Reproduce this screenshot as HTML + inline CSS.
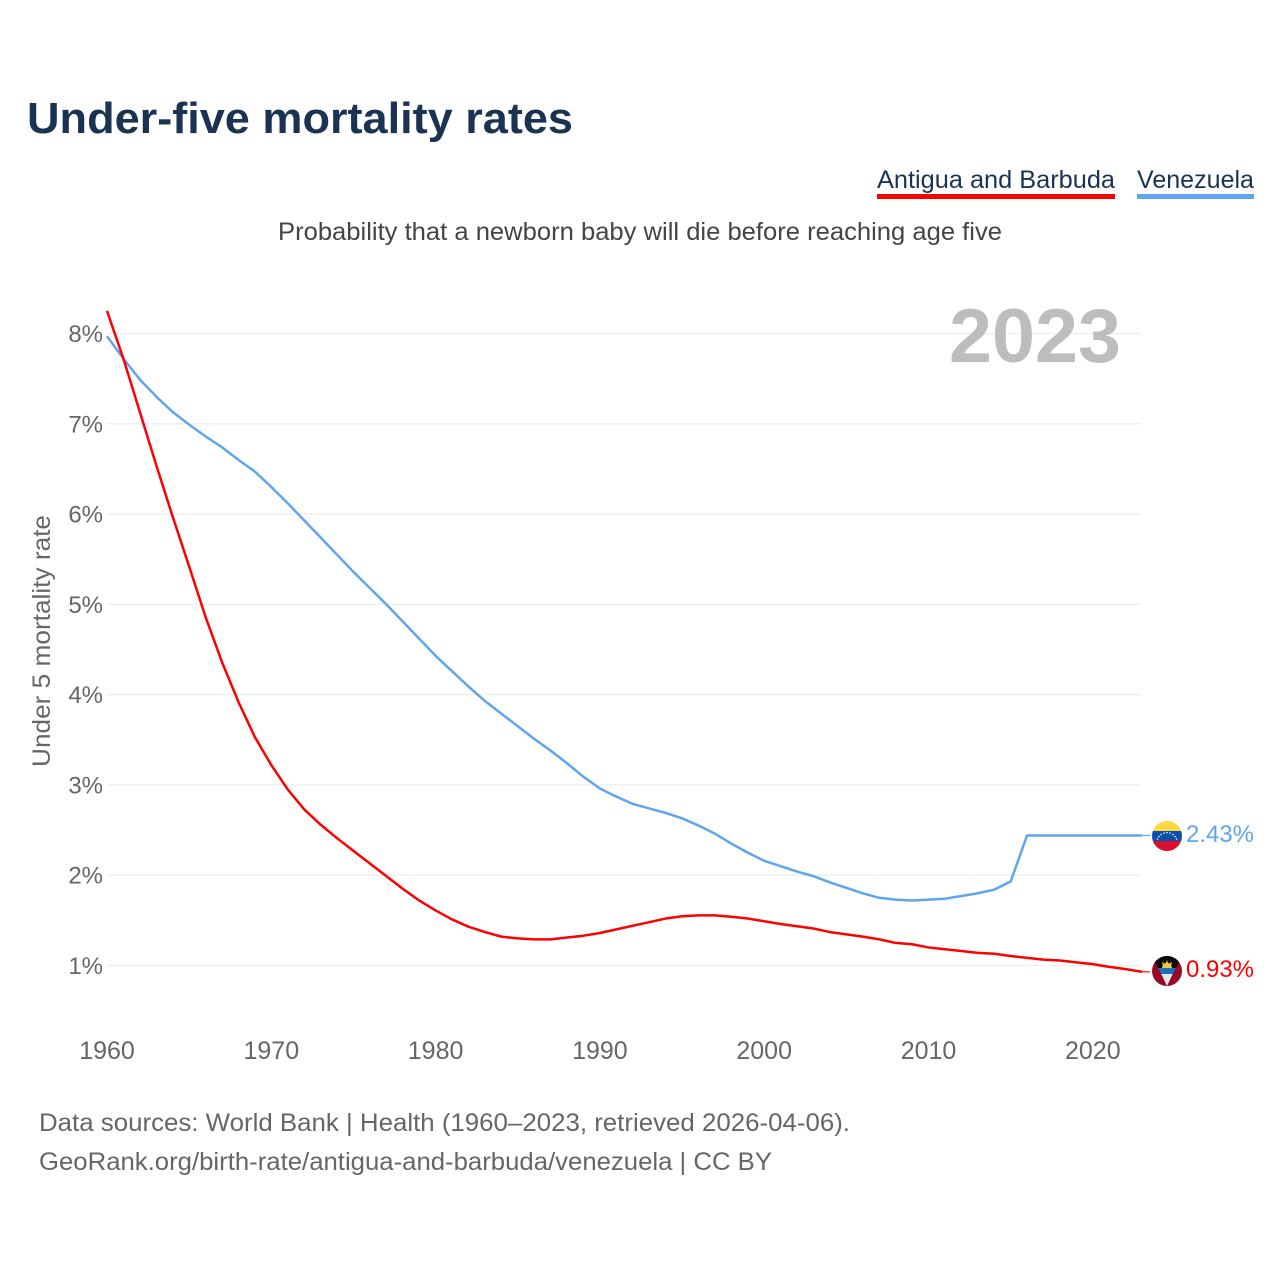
<!DOCTYPE html>
<html lang="en">
<head>
<meta charset="utf-8">
<title>Under-five mortality rates</title>
<style>
html,body{margin:0;padding:0;background:#fff;}
svg{display:block;font-family:"Liberation Sans",sans-serif;}
</style>
</head>
<body>
<svg id="chart" width="1280" height="1280" viewBox="0 0 1280 1280" xmlns="http://www.w3.org/2000/svg">
  <defs>
    <clipPath id="clip-ve"><circle cx="1167" cy="836" r="15"/></clipPath>
    <clipPath id="clip-ag"><circle cx="1167" cy="971" r="15"/></clipPath>
  </defs>
  <rect width="1280" height="1280" fill="#fff"/>
  <text x="27" y="133" font-size="44" font-weight="700" fill="#1a3353" textLength="546" lengthAdjust="spacingAndGlyphs">Under-five mortality rates</text>
  <text x="877" y="188" font-size="25" fill="#1a3353" textLength="238" lengthAdjust="spacingAndGlyphs">Antigua and Barbuda</text>
  <rect x="877" y="194" width="238" height="5" fill="#ff0000"/>
  <text x="1137" y="188" font-size="25" fill="#1a3353" textLength="117" lengthAdjust="spacingAndGlyphs">Venezuela</text>
  <rect x="1137" y="194" width="117" height="5" fill="#5fa5ee"/>
  <text x="278" y="240" font-size="25" fill="#444" textLength="724" lengthAdjust="spacingAndGlyphs">Probability that a newborn baby will die before reaching age five</text>
  <g id="grid"></g>
  <g id="y-ticks"></g>
  <g id="x-ticks"></g>
  <text x="949" y="362" font-size="76" font-weight="700" fill="#bdbdbd" textLength="172" lengthAdjust="spacingAndGlyphs">2023</text>
  <text transform="translate(50 641) rotate(-90)" text-anchor="middle" font-size="25" fill="#666" textLength="252" lengthAdjust="spacingAndGlyphs">Under 5 mortality rate</text>
  <g id="series"></g>

  <g clip-path="url(#clip-ve)">
    <rect x="1152" y="821" width="30" height="10" fill="#ffd83d"/>
    <rect x="1152" y="831" width="30" height="10" fill="#0a4fb0"/>
    <rect x="1152" y="841" width="30" height="10" fill="#d8102c"/>
    <g fill="#fff">
      <circle cx="1157.5" cy="839" r="0.8"/><circle cx="1159" cy="836.5" r="0.8"/><circle cx="1161" cy="834.5" r="0.8"/><circle cx="1164" cy="833" r="0.8"/><circle cx="1167" cy="832.5" r="0.8"/><circle cx="1170" cy="833" r="0.8"/><circle cx="1173" cy="834.5" r="0.8"/><circle cx="1175" cy="836.5" r="0.8"/><circle cx="1176.5" cy="839" r="0.8"/>
    </g>
  </g>
  <g clip-path="url(#clip-ag)">
    <rect x="1152" y="956" width="30" height="30" fill="#9a0a22"/>
    <polygon points="1152,956 1182,956 1167,986" fill="#0a0a0a"/>
    <circle cx="1167" cy="968" r="5" fill="#f6c93a"/>
    <polygon points="1167,960 1168.5,964 1172,962 1171,966 1163,966 1162,962 1165.5,964" fill="#f6c93a"/>
    <polygon points="1158,968 1176,968 1172.8,974 1161.2,974" fill="#1f6fc0"/>
    <polygon points="1161.2,974 1172.8,974 1167,986" fill="#e8e8e8"/>
  </g>
  <text x="1186" y="842" font-size="24" fill="#5fa5ee" textLength="68" lengthAdjust="spacingAndGlyphs">2.43%</text>
  <text x="1186" y="977" font-size="24" fill="#ff0000" textLength="68" lengthAdjust="spacingAndGlyphs">0.93%</text>

  <text x="39" y="1131" font-size="25" fill="#666" textLength="811" lengthAdjust="spacingAndGlyphs">Data sources: World Bank | Health (1960–2023, retrieved 2026-04-06).</text>
  <text x="39" y="1170" font-size="25" fill="#666" textLength="733" lengthAdjust="spacingAndGlyphs">GeoRank.org/birth-rate/antigua-and-barbuda/venezuela | CC BY</text>
</svg>
<script>
const startYear = 1960;
const yTickValues = [1, 2, 3, 4, 5, 6, 7, 8];
const xTickYears = [1960, 1970, 1980, 1990, 2000, 2010, 2020];
const antiguaValues = [8.25, 7.72, 7.13, 6.54, 5.97, 5.42, 4.86, 4.36, 3.92, 3.53, 3.22, 2.95, 2.73, 2.56, 2.41, 2.27, 2.13, 1.99, 1.85, 1.72, 1.61, 1.51, 1.43, 1.37, 1.32, 1.30, 1.29, 1.29, 1.31, 1.33, 1.36, 1.40, 1.44, 1.48, 1.52, 1.545, 1.555, 1.555, 1.54, 1.52, 1.49, 1.46, 1.435, 1.41, 1.37, 1.345, 1.32, 1.29, 1.25, 1.235, 1.20, 1.18, 1.16, 1.14, 1.13, 1.105, 1.085, 1.065, 1.055, 1.035, 1.015, 0.985, 0.96, 0.93];
const venezuelaValues = [7.97, 7.72, 7.49, 7.30, 7.13, 6.99, 6.86, 6.74, 6.60, 6.47, 6.30, 6.12, 5.93, 5.74, 5.55, 5.36, 5.18, 5.00, 4.81, 4.62, 4.43, 4.26, 4.09, 3.93, 3.79, 3.65, 3.51, 3.38, 3.24, 3.09, 2.96, 2.87, 2.79, 2.74, 2.69, 2.63, 2.55, 2.46, 2.35, 2.25, 2.16, 2.10, 2.04, 1.99, 1.92, 1.86, 1.80, 1.75, 1.73, 1.72, 1.73, 1.74, 1.77, 1.80, 1.84, 1.93, 2.44, 2.44, 2.44, 2.44, 2.44, 2.44, 2.44, 2.44];

const NS = 'http://www.w3.org/2000/svg';
function xScale(year) { return 107 + (year - 1960) * 16.43; }
function yScale(v) { return 965.5 - (v - 1) * 90.29; }

const grid = document.getElementById('grid');
const yTicks = document.getElementById('y-ticks');
yTickValues.forEach(function (v) {
  const line = document.createElementNS(NS, 'line');
  
  
  line.setAttribute('x1', 107);
  line.setAttribute('x2', 1141);
  line.setAttribute('y1', yScale(v));
  line.setAttribute('y2', yScale(v));
  line.setAttribute('stroke', '#eeeeee');
  line.setAttribute('stroke-width', 1.3);
  grid.appendChild(line);
  const label = document.createElementNS(NS, 'text');
  
  
  label.setAttribute('x', 103);
  label.setAttribute('y', yScale(v) + 8.5);
  label.setAttribute('text-anchor', 'end');
  label.setAttribute('font-size', 24);
  label.setAttribute('fill', '#666');
  label.textContent = v + '%';
  yTicks.appendChild(label);
});

const xTicks = document.getElementById('x-ticks');
xTickYears.forEach(function (year) {
  const label = document.createElementNS(NS, 'text');
  
  
  label.setAttribute('x', xScale(year));
  label.setAttribute('y', 1059);
  label.setAttribute('text-anchor', 'middle');
  label.setAttribute('font-size', 25);
  label.setAttribute('fill', '#666');
  label.textContent = String(year);
  xTicks.appendChild(label);
});

const seriesGroup = document.getElementById('series');
function drawSeries(values, color, name) {
  const d = values.map(function (v, i) {
    return (i ? 'L' : 'M') + xScale(startYear + i).toFixed(2) + ' ' + yScale(v).toFixed(2);
  }).join(' ');
  const path = document.createElementNS(NS, 'path');
  
  
  path.setAttribute('d', d);
  path.setAttribute('fill', 'none');
  path.setAttribute('stroke', color);
  path.setAttribute('stroke-width', 2.5);
  path.setAttribute('stroke-linejoin', 'round');
  seriesGroup.appendChild(path);
  const lastY = yScale(values[values.length - 1]);
  const connector = document.createElementNS(NS, 'line');
  
  
  connector.setAttribute('x1', xScale(startYear + values.length - 1));
  connector.setAttribute('x2', 1150);
  connector.setAttribute('y1', lastY);
  connector.setAttribute('y2', lastY);
  connector.setAttribute('stroke', color);
  connector.setAttribute('stroke-width', 1.2);
  seriesGroup.appendChild(connector);
}
drawSeries(venezuelaValues, '#5fa5ee', 'line-venezuela');
drawSeries(antiguaValues, '#ff0000', 'line-antigua-and-barbuda');
</script>
</body>
</html>
